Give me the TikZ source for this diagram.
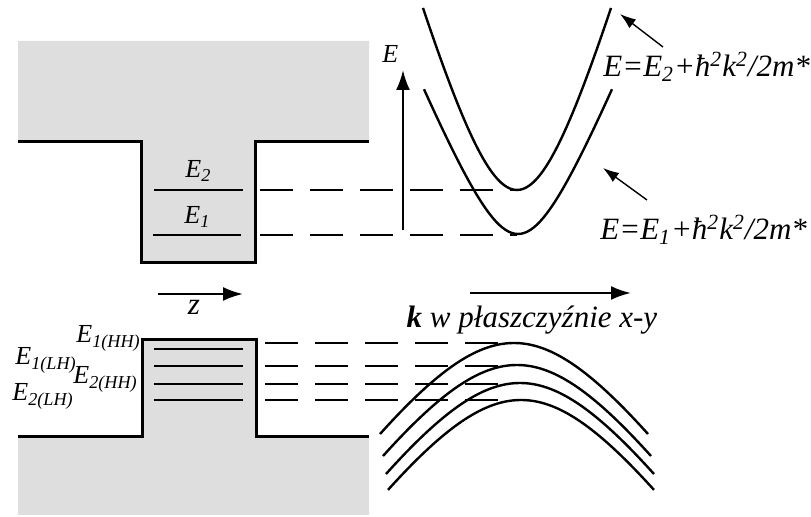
\documentclass[tikz,border=0pt]{standalone}
\usepackage{fontspec}
\setmainfont{Liberation Serif}
\usetikzlibrary{arrows.meta}
\definecolor{wellgray}{RGB}{222,222,222}
\tikzset{
  band/.style={line width=1.5pt, black},
  level/.style={line width=1.4pt, black},
  dashlevel/.style={line width=1.4pt, black, dash pattern=on 16.5pt off 8.5pt},
  curve/.style={line width=1.2pt, black},
  axisarrow/.style={line width=1.2pt, -{Latex[length=10pt,width=7pt]}},
  thinarrow/.style={line width=0.7pt, -{Latex[length=8pt,width=5.5pt]}},
  lbl/.style={inner sep=0pt, font=\fontsize{13}{15}\selectfont\itshape},
  eqlbl/.style={inner sep=0pt, font=\fontsize{15.5}{18}\selectfont\itshape},
  axlbl/.style={inner sep=0pt, font=\fontsize{15.5}{18}\selectfont\itshape}
}
\begin{document}
\begin{tikzpicture}[x=0.5pt,y=-0.5pt]
\useasboundingbox (0,0) rectangle (811,517);
% ---------- conduction band well ----------
\fill[wellgray] (18,41) -- (369,41) -- (369,142) -- (255,142) -- (255,263) -- (141,263) -- (141,142) -- (18,142) -- cycle;
\draw[band] (18,142) -- (141,142) -- (141,263) -- (255,263) -- (255,142) -- (369,142);
\draw[level] (154,190) -- (243,190);
\draw[level] (153,235) -- (241,235);
\node[lbl, anchor=base west] (e2) at (185,178) {E\textsubscript{2}};
\node[lbl, anchor=base west] (e1) at (184,224) {E\textsubscript{1}};
\draw[dashlevel] (260,190) -- (517,190);
\draw[dashlevel] (260,235) -- (517,235);
% E axis
\coordinate (eaxb) at (403,230);
\coordinate (eaxt) at (403,70);
\draw[axisarrow] (eaxb) -- (eaxt);
\node[lbl, anchor=base west] (elab) at (382,63) {E};
% conduction subbands
\draw[curve] plot[domain=-94:94, samples=61, smooth] ({517+\x}, {190-212*(sqrt(1+(\x/60)^2)-1)});
\draw[curve] plot[domain=-94:94, samples=61, smooth] ({518+\x}, {234-110*(sqrt(1+(\x/45)^2)-1)});
% equations
\node[eqlbl, anchor=base west] (eq2) at (603,77) {E=E\textsubscript{2}+ħ\textsuperscript{2}k\textsuperscript{2}/2m*};
\node[eqlbl, anchor=base west] (eq1) at (600,240) {E=E\textsubscript{1}+ħ\textsuperscript{2}k\textsuperscript{2}/2m*};
\coordinate (a2s) at (663,47);
\coordinate (a2e) at (620,14);
\coordinate (a1s) at (647,200);
\coordinate (a1e) at (603,168);
\draw[thinarrow] (a2s) -- (a2e);
\draw[thinarrow] (a1s) -- (a1e);
% ---------- valence band barrier ----------
\fill[wellgray] (18,437) -- (142,437) -- (142,340) -- (256,340) -- (256,437) -- (369,437) -- (369,515) -- (18,515) -- cycle;
\draw[band] (18,437) -- (142,437) -- (142,340) -- (256,340) -- (256,437) -- (369,437);
\draw[level] (154,349) -- (243,349);
\draw[level] (154,366) -- (243,366);
\draw[level] (154,384) -- (243,384);
\draw[level] (154,400) -- (243,400);
\draw[dashlevel] (265,343) -- (500,343);
\draw[dashlevel] (265,366) -- (500,366);
\draw[dashlevel] (265,384) -- (500,384);
\draw[dashlevel] (265,400) -- (500,400);
\node[lbl, anchor=base west] (hh1) at (76,343) {E\textsubscript{1(HH)}};
\node[lbl, anchor=base west] (lh1) at (15,365) {E\textsubscript{1(LH)}};
\node[lbl, anchor=base west] (hh2) at (73,384) {E\textsubscript{2(HH)}};
\node[lbl, anchor=base west] (lh2) at (12,401) {E\textsubscript{2(LH)}};
% valence subbands
\draw[curve] plot[domain=-134:134, samples=61, smooth] ({514+\x}, {343+158*(sqrt(1+(\x/110)^2)-1)});
\draw[curve] plot[domain=-134:134, samples=61, smooth] ({517+\x}, {365+158*(sqrt(1+(\x/110)^2)-1)});
\draw[curve] plot[domain=-134:134, samples=61, smooth] ({520+\x}, {383+158*(sqrt(1+(\x/110)^2)-1)});
\draw[curve] plot[domain=-133:133, samples=61, smooth] ({521+\x}, {400+158*(sqrt(1+(\x/110)^2)-1)});
% z and k arrows
\coordinate (zs) at (158,294);
\coordinate (ze) at (243,294);
\draw[axisarrow] (zs) -- (ze);
\node[axlbl, anchor=base] (zlab) at (194,315) {z};
\coordinate (ks) at (470,293);
\coordinate (ke) at (631,293);
\draw[axisarrow] (ks) -- (ke);
\node[axlbl, anchor=base] (klab) at (532,328) {\textbf{k} w płaszczyźnie x-y};
\end{tikzpicture}
\end{document}
